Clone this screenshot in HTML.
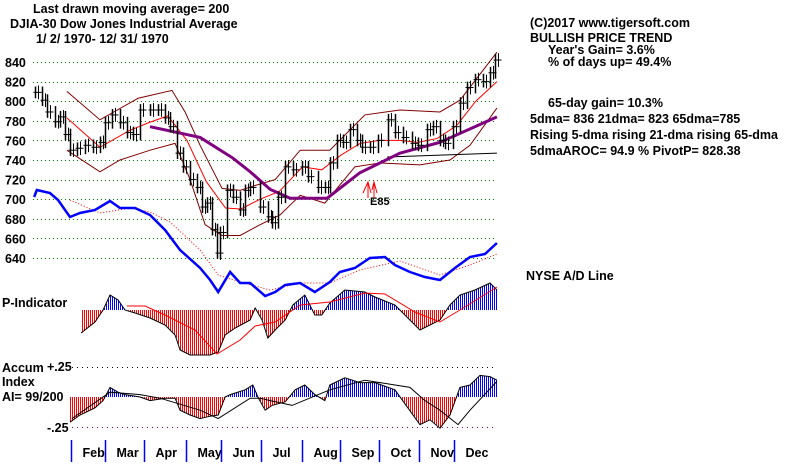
<!DOCTYPE html>
<html><head><meta charset="utf-8"><style>
body{margin:0;background:#fff}
svg{display:block}
text{font-family:"Liberation Sans",sans-serif;font-weight:bold;font-size:12.5px;fill:#000}
</style></head><body>
<svg id="c" width="800" height="464" viewBox="0 0 800 464">
<text x="33" y="13">Last drawn moving average= 200</text>
<text x="10" y="28">DJIA-30  Dow Jones Industrial Average</text>
<text x="36" y="43">1/ 2/ 1970- 12/ 31/ 1970</text>
<g>
<text x="530" y="27">(C)2017 www.tigersoft.com</text>
<text x="530" y="42">BULLISH PRICE TREND</text>
<text x="548" y="54">Year's Gain= 3.6%</text>
<text x="548" y="66">% of days up= 49.4%</text>
<text x="548" y="107">65-day gain= 10.3%</text>
<text x="530" y="123">5dma= 836 21dma= 823 65dma=785</text>
<text x="530" y="139">Rising 5-dma  rising 21-dma  rising 65-dma</text>
<text x="530" y="155">5dmaAROC= 94.9 %  PivotP= 828.38</text>
</g>
<text x="526" y="280">NYSE A/D Line</text>
<text x="2" y="307">P-Indicator</text>
<text x="2" y="372">Accum</text>
<text x="2" y="386">Index</text>
<text x="2" y="401">AI= 99/200</text>
<text x="47" y="371">+.25</text>
<text x="47" y="432">-.25</text>
</svg>
<script>
const yTicks=[840,820,800,780,760,740,720,700,680,660,640];
const months=["Feb","Mar","Apr","May","Jun","Jul","Aug","Sep","Oct","Nov","Dec"];
const monthPos=[1,1.9,2.9,4.0,4.9,5.95,7.0,8.0,9.0,10.05,10.95];
const priceT=[0.05,0.23,0.36,0.57,0.70,0.83,0.96,1.14,1.35,1.56,1.74,1.87,2.05,2.26,2.44,2.60,2.78,3.04,3.25,3.43,3.56,3.74,3.90,4.08,4.26,4.39,4.52,4.65,4.78,4.86,5.04,5.19,5.38,5.51,5.64,5.90,6.10,6.21,6.36,6.55,6.75,6.99,7.14,7.40,7.58,7.71,7.90,8.05,8.23,8.42,8.55,8.75,8.96,9.22,9.40,9.61,9.84,10.0,10.23,10.39,10.57,10.70,10.91,11.09,11.27,11.48,11.69,11.87,12.0];
const closes=[809,801,789,779,784,766,750,752,755,753,758,778,786,778,768,766,791,791,791,783,774,747,733,720,712,692,696,669,645,666,709,702,689,709,712,692,682,676,702,733,730,733,723,712,712,737,760,758,771,760,753,753,760,781,768,763,757,755,771,774,760,757,774,798,814,822,820,829,842];
const maT=[0.88,1.74,2.5,3.0,3.5,4.0,4.5,5.0,5.4,5.9,6.4,7.0,7.5,8.0,8.5,9.0,9.5,10.0,10.5,11.0,11.5,12.05];
const ma21=[783,753,770,778,785,760,718,691,690,700,708,733,730,745,757,760,760,758,762,775,800,820];
const ma65T=[3.04,4.34,5.19,5.64,6.16,6.68,7.64,8.49,9.53,10.57,12.05];
const ma65=[774,763,742,728,710,701,701,727,747,758,784];
const upT=[0.88,1.74,2.73,3.61,3.95,4.34,4.91,5.38,5.77,6.29,6.94,7.71,8.62,9.53,10.57,11.09,12.05];
const upper=[810,781,803,811,789,755,711,709,714,720,750,750,786,791,789,801,850];
const loT=[0.88,1.74,2.26,3.04,3.69,4.08,4.47,4.91,5.38,5.9,6.42,6.94,7.58,8.36,9.01,10.05,10.83,11.35,12.05];
const lower=[750,728,740,750,757,720,674,663,663,674,684,704,696,733,737,735,740,755,793];
const ma200T=[9.2,12.05];
const ma200=[743,747];
const adT=[0.03,0.1,0.44,0.65,0.96,1.22,1.61,2.0,2.26,2.65,3.04,3.43,3.82,4.34,4.6,4.81,5.12,5.38,5.64,6.03,6.29,6.55,6.94,7.32,7.71,7.97,8.36,8.75,9.14,9.4,9.79,10.18,10.57,10.96,11.35,11.74,12.05];
const adLine=[103,110,107,100,83,87,90,99,92,92,85,70,50,32,20,8,28,17,17,4,8,15,17,8,18,28,32,42,43,35,28,23,20,32,43,46,57];
const adMaT=[0.96,1.74,2.52,3.04,3.56,4.34,4.81,5.38,6.16,6.94,7.71,8.49,9.53,10.57,11.35,12.05];
const adMa=[100,87,92,88,78,50,25,18,10,17,17,30,39,25,35,46];
const pT=[1.25,1.61,1.82,2.0,2.21,2.39,2.65,3.04,3.43,3.69,3.82,4.08,4.34,4.6,4.81,4.99,5.25,5.64,5.77,5.95,6.1,6.29,6.55,6.75,7.06,7.32,7.5,7.71,8.1,8.62,8.88,9.4,9.79,10.05,10.31,10.57,10.83,11.09,11.48,11.87,12.05];
const pInd=[-23,-12,0,15,10,0,-3,-8,-15,-25,-40,-45,-45,-45,-42,-25,-18,-10,2,-10,-28,-20,-10,5,15,-5,-5,7,20,18,13,5,-10,-20,-15,-10,5,15,20,27,20];
const pMaT=[2.44,2.91,3.43,4.21,4.78,5.38,5.77,6.29,6.94,7.71,8.62,9.14,9.92,10.57,11.09,12.05];
const pMa=[4,4,-5,-20,-44,-30,-16,-12,5,8,17,16,-2,-12,0,23];
const aiT=[0.96,1.22,1.61,1.82,2.0,2.21,2.39,2.78,3.04,3.43,3.69,3.82,4.08,4.34,4.6,4.81,4.99,5.12,5.51,5.71,5.84,6.03,6.21,6.55,6.81,7.06,7.32,7.58,7.71,8.1,8.49,8.88,9.4,10.05,10.31,10.57,10.83,11.09,11.35,11.61,11.87,12.05];
const aiVal=[-.21,-.15,-.09,-.03,.08,.04,.02,0,-.03,-.01,-.01,-.11,-.15,-.18,-.16,-.15,0,.02,.06,.1,0,-.11,-.07,-.04,.06,.1,.02,-.03,.1,.16,.12,.12,.06,-.23,-.19,-.26,-.15,.08,.1,.18,.17,.14];
const aiMaT=[1.01,2.0,2.78,3.3,4.34,4.81,5.64,5.9,6.16,6.73,7.71,8.62,9.79,10.18,10.57,11.04,11.35,12.05];
const aiMa=[-.18,.04,.02,-.01,-.11,-.18,-.01,-.01,-.03,-.07,.06,.14,.08,-.03,-.11,-.23,-.11,.13];

const NS="http://www.w3.org/2000/svg",svg=document.getElementById('c');
const X=t=>33+t*38.5, Y=v=>62+(840-v)*0.98, AY=v=>300-v, PY=v=>310-v, IY=v=>397-v*120;
function el(tag,a,p){const e=document.createElementNS(NS,tag);for(const k in a)e.setAttribute(k,a[k]);(p||svg).appendChild(e);return e;}
function interp(ts,vs,t){if(t<=ts[0])return vs[0];for(let i=1;i<ts.length;i++)if(t<=ts[i]){const f=(t-ts[i-1])/(ts[i]-ts[i-1]);return vs[i-1]+f*(vs[i]-vs[i-1]);}return vs[vs.length-1];}
function line(ts,vs,fy,st,name){const pl=el('polyline',Object.assign({points:ts.map((t,i)=>X(t)+','+fy(vs[i])).join(' '),fill:'none'},st));

return pl;}
yTicks.forEach(v=>{const g=el('line',{x1:33,x2:497,y1:Math.round(Y(v))+0.5,y2:Math.round(Y(v))+0.5,stroke:'#008000','stroke-dasharray':'1,3'});


const t=el('text',{x:5,y:Y(v)+5});t.textContent=v;

});
function hist(ts,vs,fy,base,name,off){const g=el('g',{});


for(let x=Math.round(X(ts[0]))+off;x<=X(ts[ts.length-1]);x+=2){const v=interp(ts,vs,(x-33)/38.5);const y=fy(v);
el('rect',{x:x,y:Math.min(y,base),width:1,height:Math.max(Math.abs(y-base),0.5),fill:(v>=0?'#0000ff':'#ff0000')},g);}
line(ts,vs,fy,{stroke:'#000','stroke-width':1},name+'-outline');}
hist(pT,pInd,PY,310,'p-indicator-histogram',1);
line(pMaT,pMa,PY,{stroke:'#ff0000','stroke-width':1},'p-indicator-ma');
const ul=el('line',{x1:72,x2:497,y1:367.5,y2:367.5,stroke:'#000','stroke-dasharray':'1,4'});


const ll=el('line',{x1:72,x2:497,y1:427.5,y2:427.5,stroke:'#800080','stroke-dasharray':'1,4'});


hist(aiT,aiVal,IY,397,'accum-index-histogram',0);
line(aiMaT,aiMa,IY,{stroke:'#000','stroke-width':1},'accum-index-ma');
line(adMaT,adMa,AY,{stroke:'#ff0000','stroke-dasharray':'1,2'},'ad-line-ma');
line(adT,adLine,AY,{stroke:'#0000ff','stroke-width':2.5},'nyse-ad-line');
line(upT,upper,Y,{stroke:'#800000'},'upper-band');
line(loT,lower,Y,{stroke:'#800000'},'lower-band');
line(maT,ma21,Y,{stroke:'#ff0000'},'ma-21');
line(ma200T,ma200,Y,{stroke:'#000'},'ma-200');
line(ma65T,ma65,Y,{stroke:'#800080','stroke-width':3},'ma-65');
const pg=el('g',{});


closes.forEach((c,i)=>{const t=priceT[i],x=Math.round(X(t))+0.5,prev=i?closes[i-1]:c;const hi=Math.max(c,prev)+6,lo=Math.min(c,prev)-6;
el('line',{x1:x,x2:x,y1:Y(hi),y2:Y(lo),stroke:'#000','stroke-width':1.5},pg);
el('line',{x1:x+3,x2:x+3,y1:Y(c+7),y2:Y(c-7),stroke:'#000'},pg);
el('line',{x1:x-2,x2:x+6,y1:Y(c),y2:Y(c),stroke:'#000'},pg);});
const sg=el('text',{x:370,y:205,style:'font-size:11px;fill:#000'});sg.textContent='E85';


const ar=el('path',{d:'M363,193 L368,182 L371,193 M368,182 L368,198 M372,190 L374,182 L377,193 M374,182 L374,198',stroke:'#ff0000',fill:'none'});


months.forEach((m,i)=>{const x=Math.round(X(monthPos[i]))-0.5;const l=el('line',{x1:x,x2:x,y1:440,y2:462,stroke:'#0000ff','stroke-width':1.5});


const t=el('text',{x:x+11,y:457});t.textContent=m;

});
</script>
</body></html>
